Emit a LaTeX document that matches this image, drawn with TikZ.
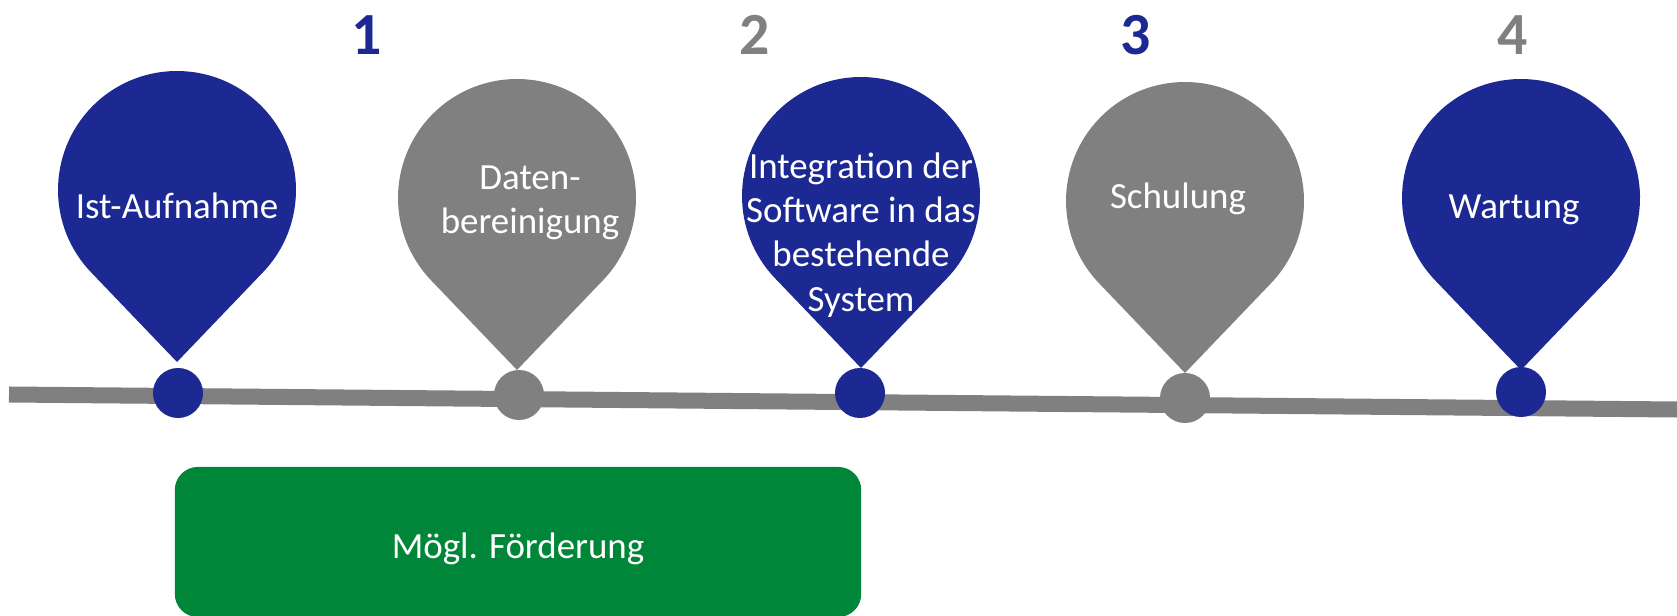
\documentclass[tikz,border=0pt]{standalone}
\usepackage{fontspec}
\setmainfont{Carlito}
\usetikzlibrary{calc}
\definecolor{pin_blue}{RGB}{28,41,146}
\definecolor{pin_gray}{RGB}{128,128,128}
\definecolor{box_green}{RGB}{0,134,56}
\newcommand\droppin[3]{%
  \fill[#3] ($(#1,#2)+(-43.8:119)$) arc[start angle=-43.8, end angle=223.8, radius=119]
    -- ($(#1,#2)+(0,-172)$) -- cycle;}

\begin{document}
\begin{tikzpicture}[x=0.01cm,y=0.01cm]
    \tikzstyle{txt}=[text=white, align=center, inner sep=0pt, font=\fontsize{10.5}{12.6}\selectfont]
    \tikzstyle{dot}=[circle, inner sep=0pt, minimum size=0.5cm]
    \tikzstyle{num}=[inner sep=0pt, font=\fontsize{17}{20}\selectfont\bfseries]
    \tikzstyle{bar}=[fill=box_green, rounded corners=0.23cm, minimum width=6.86cm, minimum height=1.5cm]

    \useasboundingbox (0,0) rectangle (1677,-616);

    % timeline
    \coordinate (tl_start) at (9,-394.5);
    \coordinate (tl_end)   at (1677,-409.5);
    \path (tl_start) edge[pin_gray, line width=0.16cm] (tl_end);

    % pins
    \droppin{177}{-190}{pin_blue}
    \droppin{517}{-198}{pin_gray}
    \droppin{861}{-196}{pin_blue}
    \droppin{1185}{-201}{pin_gray}
    \droppin{1521}{-198}{pin_blue}

    \node[dot,fill=pin_blue] (d1) at (178,-393)  {};
    \node[dot,fill=pin_gray] (d2) at (519,-395)  {};
    \node[dot,fill=pin_blue] (d3) at (860,-393)  {};
    \node[dot,fill=pin_gray] (d4) at (1185,-398) {};
    \node[dot,fill=pin_blue] (d5) at (1521,-392) {};

    \node[txt] (p1) at (177,-206)  {Ist-Aufnahme};
    \node[txt] (p2) at (530,-203)  {Daten-\\bereinigung};
    \node[txt] (p3) at (861,-235)  {Integration der\\Software in das\\bestehende\\System};
    \node[txt] (p4) at (1178,-199) {Schulung};
    \node[txt] (p5) at (1514,-210) {Wartung};

    % step numbers
    \node[num,text=pin_blue] (n1) at (367,-35)  {1};
    \node[num,text=pin_gray] (n2) at (755,-35)  {2};
    \node[num,text=pin_blue] (n3) at (1136,-35) {3};
    \node[num,text=pin_gray] (n4) at (1513,-35) {4};

    \node[bar] (f) at (518,-542) {};
    \node[txt] (ft) at (518,-549) {Mögl. Förderung};
\end{tikzpicture}
\end{document}
